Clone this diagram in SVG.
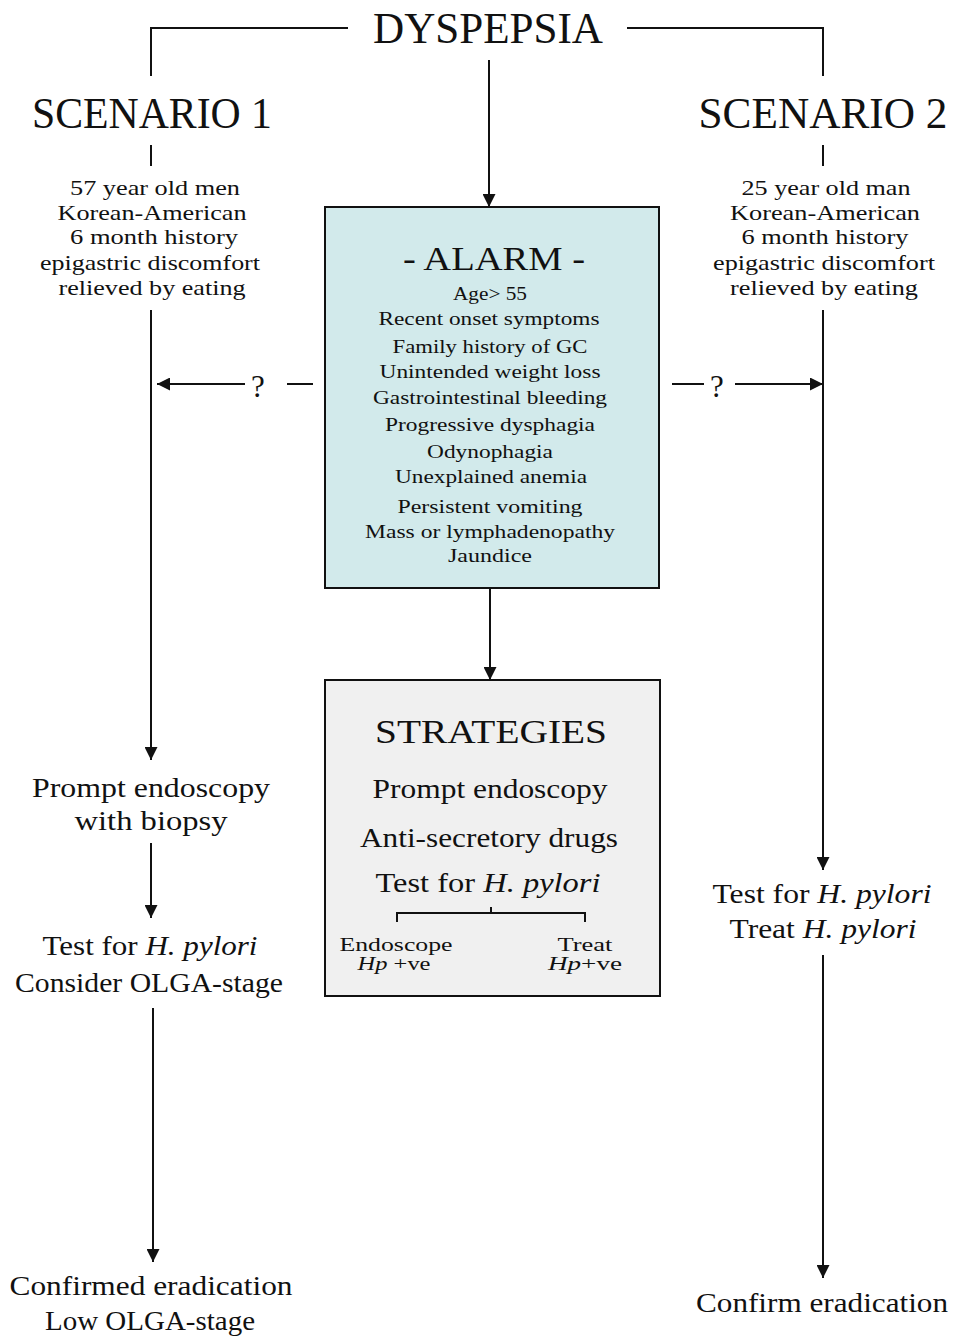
<svg xmlns="http://www.w3.org/2000/svg" width="955" height="1343" viewBox="0 0 955 1343">
<style>
text{font-family:"Liberation Serif","Times New Roman",serif;fill:#111;text-anchor:middle}
.h{font-size:45px}
.sc{font-size:22px}
.al{font-size:19px}
.md{font-size:27px}
.sm{font-size:18px}
.q{font-size:31px}
.ln{stroke:#111;stroke-width:2;fill:none}
.box{stroke:#111;stroke-width:2}
.it{font-style:italic}
</style>
<defs>
<marker id="ah" viewBox="0 0 12 12" refX="12" refY="6" markerWidth="13" markerHeight="13" orient="auto" markerUnits="userSpaceOnUse"><path d="M0,0 L12,6 L0,12 z" fill="#111"/></marker>
</defs>
<rect width="955" height="1343" fill="#fff"/>
<g id="connectors">
<polyline class="ln" points="348,28 151,28 151,76"/>
<polyline class="ln" points="627,28 823,28 823,76"/>
<line class="ln" x1="489" y1="60" x2="489" y2="207" stroke-width="2.5" marker-end="url(#ah)"/>
<line class="ln" x1="151" y1="145" x2="151" y2="166"/>
<line class="ln" x1="823" y1="145" x2="823" y2="166"/>
<line class="ln" x1="151" y1="310" x2="151" y2="760" marker-end="url(#ah)"/>
<line class="ln" x1="823" y1="310" x2="823" y2="870" marker-end="url(#ah)"/>
<line class="ln" x1="245" y1="384" x2="157" y2="384" marker-end="url(#ah)"/>
<line class="ln" x1="287" y1="384" x2="313" y2="384"/>
<line class="ln" x1="672" y1="384" x2="704" y2="384"/>
<line class="ln" x1="735" y1="384" x2="823" y2="384" marker-end="url(#ah)"/>
<line class="ln" x1="490" y1="588" x2="490" y2="680" marker-end="url(#ah)"/>
<line class="ln" x1="151" y1="843" x2="151" y2="918" marker-end="url(#ah)"/>
<line class="ln" x1="153" y1="1008" x2="153" y2="1262" stroke-width="4.5" marker-end="url(#ah)"/>
<line class="ln" x1="823" y1="955" x2="823" y2="1278" marker-end="url(#ah)"/>
<text x="258" y="397" class="q">?</text>
<text x="717" y="397" class="q">?</text>
</g>
<g id="dyspepsia"><text x="488" y="43" class="h" textLength="230" lengthAdjust="spacingAndGlyphs">DYSPEPSIA</text></g>
<g id="scenario1">
<text x="152" y="128" class="h" textLength="240" lengthAdjust="spacingAndGlyphs">SCENARIO 1</text>
<text x="155" y="195" class="sc" textLength="170" lengthAdjust="spacingAndGlyphs">57 year old men</text>
<text x="152" y="220" class="sc" textLength="189" lengthAdjust="spacingAndGlyphs">Korean-American</text>
<text x="154" y="244" class="sc" textLength="168" lengthAdjust="spacingAndGlyphs">6 month history</text>
<text x="150" y="270" class="sc" textLength="220" lengthAdjust="spacingAndGlyphs">epigastric discomfort</text>
<text x="152" y="295" class="sc" textLength="187" lengthAdjust="spacingAndGlyphs">relieved by eating</text>
</g>
<g id="scenario2">
<text x="823" y="128" class="h" textLength="249" lengthAdjust="spacingAndGlyphs">SCENARIO 2</text>
<text x="826" y="195" class="sc" textLength="169" lengthAdjust="spacingAndGlyphs">25 year old man</text>
<text x="825" y="220" class="sc" textLength="190" lengthAdjust="spacingAndGlyphs">Korean-American</text>
<text x="825" y="244" class="sc" textLength="167" lengthAdjust="spacingAndGlyphs">6 month history</text>
<text x="824" y="270" class="sc" textLength="222" lengthAdjust="spacingAndGlyphs">epigastric discomfort</text>
<text x="824" y="295" class="sc" textLength="188" lengthAdjust="spacingAndGlyphs">relieved by eating</text>
</g>
<g id="alarm">
<rect x="325" y="207" width="334" height="381" fill="#d2eaeb" class="box"/>
<text x="494" y="270" font-size="34" textLength="182" lengthAdjust="spacingAndGlyphs">- ALARM -</text>
<text x="490" y="300" class="al" textLength="74" lengthAdjust="spacingAndGlyphs">Age&gt; 55</text>
<text x="489" y="325" class="al" textLength="221" lengthAdjust="spacingAndGlyphs">Recent onset symptoms</text>
<text x="490" y="353" class="al" textLength="195" lengthAdjust="spacingAndGlyphs">Family history of GC</text>
<text x="490" y="378" class="al" textLength="221" lengthAdjust="spacingAndGlyphs">Unintended weight loss</text>
<text x="490" y="404" class="al" textLength="234" lengthAdjust="spacingAndGlyphs">Gastrointestinal bleeding</text>
<text x="490" y="431" class="al" textLength="210" lengthAdjust="spacingAndGlyphs">Progressive dysphagia</text>
<text x="490" y="458" class="al" textLength="126" lengthAdjust="spacingAndGlyphs">Odynophagia</text>
<text x="491" y="483" class="al" textLength="192" lengthAdjust="spacingAndGlyphs">Unexplained anemia</text>
<text x="490" y="513" class="al" textLength="185" lengthAdjust="spacingAndGlyphs">Persistent vomiting</text>
<text x="490" y="538" class="al" textLength="250" lengthAdjust="spacingAndGlyphs">Mass or lymphadenopathy</text>
<text x="490" y="562" class="al" textLength="84" lengthAdjust="spacingAndGlyphs">Jaundice</text>
</g>
<g id="strategies">
<rect x="325" y="680" width="335" height="316" fill="#f0f0f0" class="box"/>
<text x="491" y="743" font-size="33" textLength="232" lengthAdjust="spacingAndGlyphs">STRATEGIES</text>
<text x="490" y="798" class="md" font-size="26" textLength="235" lengthAdjust="spacingAndGlyphs">Prompt endoscopy</text>
<text x="489" y="847" class="md" font-size="26" textLength="258" lengthAdjust="spacingAndGlyphs">Anti-secretory drugs</text>
<text x="488" y="892" class="md" font-size="26" textLength="225" lengthAdjust="spacingAndGlyphs">Test for <tspan class="it">H. pylori</tspan></text>
<polyline class="ln" points="397,922 397,913 585,913 585,922"/>
<line class="ln" x1="491" y1="907" x2="491" y2="913"/>
<text x="396" y="951" class="sm" textLength="113" lengthAdjust="spacingAndGlyphs">Endoscope</text>
<text x="394" y="970" class="sm" textLength="73" lengthAdjust="spacingAndGlyphs"><tspan class="it">Hp</tspan> +ve</text>
<text x="585" y="951" class="sm" textLength="55" lengthAdjust="spacingAndGlyphs">Treat</text>
<text x="585" y="970" class="sm" textLength="74" lengthAdjust="spacingAndGlyphs"><tspan class="it">Hp</tspan>+ve</text>
</g>
<g id="left-endoscopy">
<text x="151" y="797" class="md" textLength="238" lengthAdjust="spacingAndGlyphs">Prompt endoscopy</text>
<text x="151" y="830" class="md" textLength="153" lengthAdjust="spacingAndGlyphs">with biopsy</text>
</g>
<g id="left-test">
<text x="150" y="955" class="md" font-size="26" textLength="215" lengthAdjust="spacingAndGlyphs">Test for <tspan class="it">H. pylori</tspan></text>
<text x="149" y="992" class="md" font-size="26" textLength="268" lengthAdjust="spacingAndGlyphs">Consider OLGA-stage</text>
</g>
<g id="left-confirm">
<text x="151" y="1295" class="md" textLength="283" lengthAdjust="spacingAndGlyphs">Confirmed eradication</text>
<text x="150" y="1330" class="md" textLength="210" lengthAdjust="spacingAndGlyphs">Low OLGA-stage</text>
</g>
<g id="right-test">
<text x="822" y="903" class="md" font-size="26" textLength="219" lengthAdjust="spacingAndGlyphs">Test for <tspan class="it">H. pylori</tspan></text>
<text x="823" y="938" class="md" font-size="26" textLength="187" lengthAdjust="spacingAndGlyphs">Treat <tspan class="it">H. pylori</tspan></text>
</g>
<g id="right-confirm">
<text x="822" y="1312" class="md" textLength="252" lengthAdjust="spacingAndGlyphs">Confirm eradication</text>
</g>
</svg>
